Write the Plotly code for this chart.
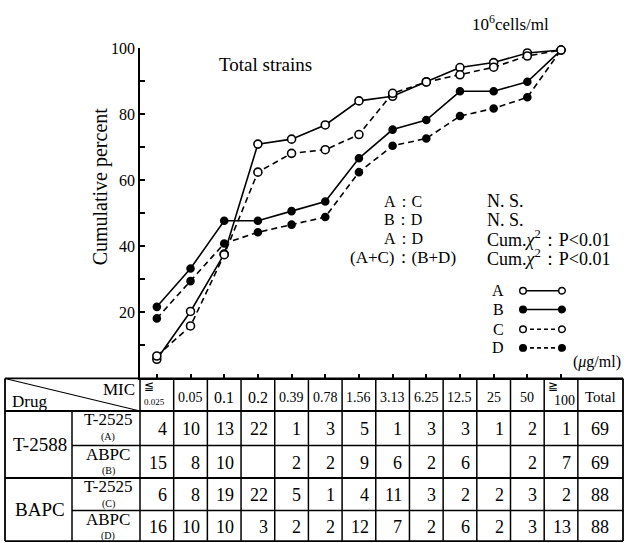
import plotly.graph_objects as go

# ---------------- data ----------------
mic_labels = ["0.025", "0.05", "0.1", "0.2", "0.39", "0.78", "1.56", "3.13",
              "6.25", "12.5", "25", "50", "100"]
series_names = ["A", "B", "C", "D"]

cum_A = [5.8, 20.3, 37.7, 71.0, 72.5, 76.8, 84.1, 85.5, 89.9, 94.2, 95.7, 98.6, 99.5]
cum_B = [21.7, 33.3, 47.8, 47.8, 50.7, 53.6, 66.7, 75.4, 78.3, 87.0, 87.0, 89.9, 99.5]
cum_C = [6.8, 15.9, 37.5, 62.5, 68.2, 69.3, 73.9, 86.4, 89.8, 92.0, 94.3, 97.7, 99.5]
cum_D = [18.2, 29.5, 40.9, 44.3, 46.6, 48.9, 62.5, 70.5, 72.7, 79.5, 81.8, 85.2, 99.5]

count_A = [4, 10, 13, 22, 1, 3, 5, 1, 3, 3, 1, 2, 1]
count_B = [15, 8, 10, None, 2, 2, 9, 6, 2, 6, None, 2, 7]
count_C = [6, 8, 19, 22, 5, 1, 4, 11, 3, 2, 2, 3, 2]
count_D = [16, 10, 10, 3, 2, 2, 12, 7, 2, 6, 2, 3, 13]
totals = [69, 69, 88, 88]

group_labels = ["T-2588", "BAPC"]
drug_labels = ["T-2525", "ABPC", "T-2525", "ABPC"]

stat_left = ["A：C", "B：D", "A：D", "(A+C)：(B+D)"]
stat_right = ["N. S.", "N. S.", "Cum.<i>χ</i><sup>2</sup>：P&lt;0.01",
              "Cum.<i>χ</i><sup>2</sup>：P&lt;0.01"]

# ---------------- layout helpers ----------------
W, H = 626, 543
FONT = "Liberation Serif"
X0, X1 = 140, 623          # x axis pixel extent
XR = [-0.5, 13.84]          # x axis data range
Y_TOP, Y_BOT = 41, 376      # plot area pixel extent


def px(x):
    return x / W


def py(y):
    return 1 - y / H


def dx2px(v):
    return X0 + (v - XR[0]) / (XR[1] - XR[0]) * (X1 - X0)


def txt(text, x, y, size, xanchor="center", xref="paper", **kw):
    d = dict(text=text, x=x if xref != "paper" else px(x), y=py(y), xref=xref, yref="paper",
             xanchor=xanchor, yanchor="middle", showarrow=False,
             font=dict(family=FONT, size=size, color="black"))
    d.update(kw)
    return d


xs = list(range(len(mic_labels)))

fig = go.Figure()

styles = {
    "A": dict(dash="solid", open=True, y=cum_A),
    "B": dict(dash="solid", open=False, y=cum_B),
    "C": dict(dash="dash", open=True, y=cum_C),
    "D": dict(dash="dash", open=False, y=cum_D),
}
for name in ["B", "D", "A", "C"]:
    s = styles[name]
    fig.add_trace(go.Scatter(
        x=xs, y=s["y"], mode="lines+markers", name=name, showlegend=False,
        line=dict(color="black", width=1.6, dash="6px,4px" if s["dash"] == "dash" else "solid"),
        marker=dict(symbol="circle", size=8 if s["open"] else 7,
                    color="white" if s["open"] else "black",
                    line=dict(color="black", width=1.6)),
        cliponaxis=False,
    ))

ann = []
shapes = []

ann.append(txt("Total strains", 265, 57, 19))
ann.append(txt("10<sup>6</sup>cells/ml", 510, 15, 17))
ann.append(txt("Cumulative percent", 100, 181, 20, textangle=-90))

stat_rows = [196, 215, 234, 253]
for i in range(4):
    ann.append(txt(stat_left[i], 403, stat_rows[i], 17 if i == 3 else 16))
    ann.append(txt(stat_right[i], 485, stat_rows[i], 18, xanchor="left"))

# manual legend
leg_rows = [287, 306, 326, 345]
for i, name in enumerate(series_names):
    s = styles[name]
    yy = leg_rows[i]
    ann.append(txt(name, 498, yy, 16))
    shapes.append(dict(type="line", xref="paper", yref="paper", x0=px(523), x1=px(562),
                       y0=py(yy), y1=py(yy),
                       line=dict(color="black", width=1.6, dash="4px,3px" if s["dash"] == "dash" else "solid")))
    for cx in (523, 562):
        r = 3.3
        shapes.append(dict(type="circle", xref="paper", yref="paper",
                           x0=px(cx - r), x1=px(cx + r), y0=py(yy - r), y1=py(yy + r),
                           fillcolor="white" if s["open"] else "black",
                           line=dict(color="black", width=1.4)))
ann.append(txt("(<i>μ</i>g/ml)", 623, 359, 16, xanchor="right"))

# ---------------- table ----------------
T_TOP, T_HEAD, T_BOT = 376, 409, 541
row_bounds = [409, 444, 477, 510, 541]
L_EDGE, G_COL, S_COL = 5, 72, 140
LW = 1.5


def hline(y, xa, xb, w=LW):
    shapes.append(dict(type="line", xref="paper", yref="paper", x0=px(xa), x1=px(xb),
                       y0=py(y), y1=py(y), line=dict(color="black", width=w)))


def vline(x, ya, yb, w=LW):
    shapes.append(dict(type="line", xref="paper", yref="paper", x0=px(x), x1=px(x),
                       y0=py(ya), y1=py(yb), line=dict(color="black", width=w)))


hline(T_TOP, L_EDGE, X1, 1.8)
hline(T_HEAD, L_EDGE, X1, 2)
hline(row_bounds[1], G_COL, X1)
hline(row_bounds[2], L_EDGE, X1, 2)
hline(row_bounds[3], G_COL, X1)
hline(T_BOT, L_EDGE, X1, 1.8)
vline(L_EDGE, T_TOP, T_BOT, 1.8)
vline(G_COL, T_HEAD, T_BOT)
vline(S_COL, T_TOP, T_BOT)
col_bounds = [dx2px(i + 0.5) for i in range(len(mic_labels))]
for cb in col_bounds:
    vline(cb, T_TOP, T_BOT)
vline(X1, T_TOP, T_BOT, 1.8)
shapes.append(dict(type="line", xref="paper", yref="paper", x0=px(L_EDGE), y0=py(T_TOP),
                   x1=px(S_COL), y1=py(T_HEAD), line=dict(color="black", width=1.2)))
ann.append(txt("MIC", 137, 387, 17, xanchor="right"))
ann.append(txt("Drug", 10, 399, 17, xanchor="left"))

# header labels
last = len(mic_labels) - 1
for i, lab in enumerate(mic_labels):
    if i == 0:
        ann.append(txt("≦", i - 0.44, 384, 12, xanchor="left", xref="x"))
        ann.append(txt(lab, i - 0.45, 400, 9, xanchor="left", xref="x"))
    elif i == last:
        ann.append(txt("≧", i - 0.44, 384, 12, xanchor="left", xref="x"))
        ann.append(txt(lab, i + 0.47, 398, 14, xanchor="right", xref="x"))
    else:
        ann.append(txt(lab, i, 395, 16 if lab in ("0.1", "0.2") else 14, xref="x"))
tot_x = (12.5 + XR[1]) / 2
ann.append(txt("Total", tot_x, 395, 15, xref="x"))

# row labels
for g, lab in enumerate(group_labels):
    yc = (row_bounds[2 * g] + row_bounds[2 * g + 2]) / 2
    ann.append(txt(lab, (L_EDGE + G_COL) / 2 + 1, yc, 19))
counts = [count_A, count_B, count_C, count_D]
for r in range(4):
    ya, yb = row_bounds[r], row_bounds[r + 1]
    ann.append(txt(drug_labels[r], (G_COL + S_COL) / 2 + 2, ya + 9, 17))
    ann.append(txt("(" + series_names[r] + ")", (G_COL + S_COL) / 2 + 2, ya + 26, 10))
    for i, v in enumerate(counts[r]):
        if v is None:
            continue
        ann.append(txt(str(v), i + 0.5, (ya + yb) / 2 + 1, 18, xanchor="right", xref="x", xshift=-5))
    ann.append(txt(str(totals[r]), tot_x, (ya + yb) / 2 + 1, 18, xref="x"))

ytick_vals = list(range(10, 101, 10))
ytick_text = [str(v) if v % 20 == 0 else " " for v in ytick_vals]

fig.update_layout(
    width=W, height=H, margin=dict(l=0, r=0, t=0, b=0),
    paper_bgcolor="white", plot_bgcolor="white",
    showlegend=False,
    annotations=ann, shapes=shapes,
    xaxis=dict(domain=[px(X0), px(X1)], range=XR, showline=True, linecolor="black", linewidth=1.8,
               ticks="inside", ticklen=5, tickwidth=1.5, tickcolor="black",
               tickvals=xs, showticklabels=False, showgrid=False, zeroline=False, fixedrange=True),
    yaxis=dict(domain=[py(Y_BOT), py(Y_TOP)], range=[0, 100], showline=True, linecolor="black",
               linewidth=1.8, ticks="inside", ticklen=5, tickwidth=1.5, tickcolor="black",
               tickvals=ytick_vals, ticktext=ytick_text, showgrid=False, zeroline=False,
               tickfont=dict(family=FONT, size=16, color="black"), fixedrange=True),
)

fig.write_html("out.html", config={"displayModeBar": False},
               post_script="document.body.style.margin='0';")
